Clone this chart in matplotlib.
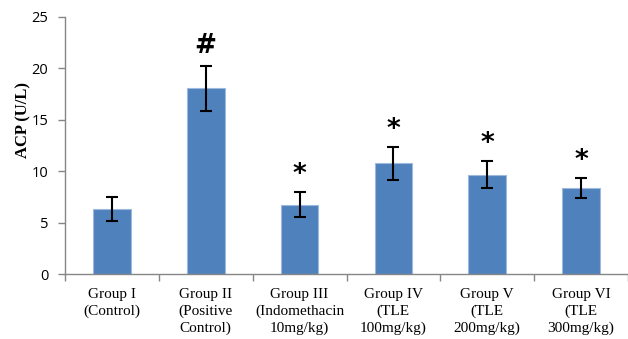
import numpy as np
import matplotlib.pyplot as plt

# ACP levels per group (mean and SD)
groups = ['Group I\n(Control)', 'Group II\n(Positive\nControl)',
          'Group III\n(Indomethacin\n10mg/kg)', 'Group IV\n(TLE\n100mg/kg)',
          'Group V\n(TLE\n200mg/kg)', 'Group VI\n(TLE\n300mg/kg)']
acp_mean = [6.3, 18.05, 6.75, 10.75, 9.65, 8.35]
acp_sd = [1.15, 2.15, 1.2, 1.6, 1.3, 1.0]
marks = ['', '#', '*', '*', '*', '*']

axis_grey = '#868686'

fig = plt.figure(figsize=(6.28, 3.39), dpi=100)
ax = fig.add_axes([65 / 628, 1 - 274 / 339, 563 / 628, 257 / 339])

x = np.arange(len(groups))
ax.bar(x, acp_mean, width=0.4, color='#4F81BD', edgecolor='#9DB9DD', linewidth=0.8, zorder=2)
ax.errorbar(x, acp_mean, yerr=acp_sd, fmt='none', ecolor='black', elinewidth=1.5,
            capsize=4, capthick=1.5, zorder=3)

# significance markers above the error bars
for xi, m, s, lab in zip(x, acp_mean, acp_sd, marks):
    if lab:
        ax.annotate(lab, (xi, m + s), xytext=(0, 5 if lab == '#' else 3),
                    textcoords='offset points', ha='center', va='bottom',
                    fontsize=19, fontweight='bold', family='DejaVu Sans')

ax.set_xlim(-0.5, len(groups) - 0.5)
ax.set_ylim(0, 25)
ax.set_yticks([0, 5, 10, 15, 20, 25])
ax.set_yticklabels(['0', '5', '10', '15', '20', '25'], family='Open Sans', fontsize=10.5)

# category ticks sit between the bars
ax.set_xticks(np.arange(len(groups) + 1) - 0.5)
ax.set_xticklabels([])
ax.set_xticks(x, minor=True)
ax.set_xticklabels(groups, minor=True, family='Liberation Serif', fontsize=11,
                   linespacing=1.35)
ax.tick_params(axis='x', which='minor', length=0, pad=10)
ax.tick_params(axis='x', which='major', length=5, color=axis_grey, width=1)
ax.tick_params(axis='y', length=5, color=axis_grey, width=1, pad=7)

for side in ['top', 'right']:
    ax.spines[side].set_visible(False)
for side in ['left', 'bottom']:
    ax.spines[side].set_color(axis_grey)
    ax.spines[side].set_linewidth(1)

ax.set_ylabel('ACP (U/L)', family='Liberation Serif', fontweight='bold', fontsize=12)
ax.yaxis.set_label_coords(-0.06, 0.6)

fig.savefig('out.png', dpi=100)
